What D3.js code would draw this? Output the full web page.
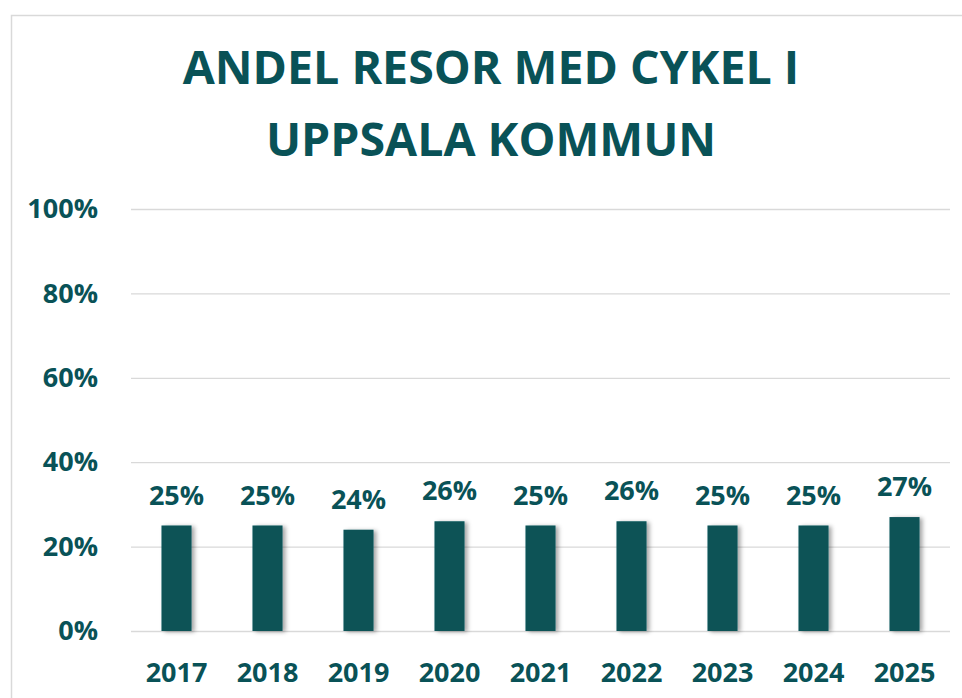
<!DOCTYPE html>
<html><head><meta charset="utf-8">
<script src="https://cdn.jsdelivr.net/npm/d3@7"></script>
<style>body{margin:0;background:#fff;}svg{display:block;}</style>
</head><body>
<svg id="c" width="962" height="698"></svg>
<script>
const titleLines = ["ANDEL RESOR MED CYKEL I", "UPPSALA KOMMUN"];
const years = ["2017","2018","2019","2020","2021","2022","2023","2024","2025"];
const shares = [25,25,24,26,25,26,25,25,27];
const yTicks = [0,20,40,60,80,100];

const color = "#095257";
const font = "'Open Sans', sans-serif";
const svg = d3.select("#c");
const W = 962, H = 698;
const m = {left:131, right:12, top:209, bottom:67};

svg.append("rect").attr("x",11.5).attr("y",15.5).attr("width",1000).attr("height",800)
  .attr("fill","#fff").attr("stroke","#d9d9d9").attr("stroke-width",1.5);

const defs = svg.append("defs");
const f = defs.append("filter").attr("id","sh").attr("x","-20%").attr("y","-10%").attr("width","160%").attr("height","130%");
f.append("feDropShadow").attr("dx",3).attr("dy",1).attr("stdDeviation",2).attr("flood-color","#000").attr("flood-opacity",0.35);

const x = d3.scaleBand().domain(years).range([m.left, W - m.right]).paddingInner(0.67).paddingOuter(0.335);
const y = d3.scaleLinear().domain([0,100]).range([H - m.bottom, m.top]);

// title
svg.append("g").selectAll("text").data(titleLines).join("text")
  .attr("x",491).attr("y",(d,i)=>84 + i*72)
  .attr("text-anchor","middle").attr("fill",color)
  .attr("font-family",font).attr("font-weight",700).attr("font-size",46.5)
  .text(d=>d);

// gridlines
const yAxis = d3.axisLeft(y).tickValues(yTicks).tickSize(-(W - m.right - m.left)).tickFormat(d=>d+"%").tickPadding(33);
const gy = svg.append("g").attr("transform",`translate(${m.left},0)`).call(yAxis);
gy.select(".domain").remove();
gy.selectAll(".tick line").attr("stroke","#d9d9d9").attr("stroke-width",1.3);
gy.selectAll(".tick text").attr("fill",color).attr("font-family",font).attr("font-weight",700).attr("font-size",27);

// bars
svg.append("g").selectAll("rect").data(years).join("rect")
  .attr("x",d=>x(d)).attr("width",x.bandwidth())
  .attr("y",(d,i)=>y(shares[i])).attr("height",(d,i)=>y(0)-y(shares[i]))
  .attr("fill",color).attr("filter","url(#sh)");

// value labels
svg.append("g").selectAll("text").data(years).join("text")
  .attr("x",d=>x(d)+x.bandwidth()/2).attr("y",(d,i)=>y(shares[i]) - 21)
  .attr("text-anchor","middle").attr("fill",color)
  .attr("font-family",font).attr("font-weight",700).attr("font-size",27)
  .text((d,i)=>shares[i]+"%");

// x axis
const xAxis = d3.axisBottom(x).tickSize(0).tickPadding(32);
const gx = svg.append("g").attr("transform",`translate(0,${y(0)})`).call(xAxis);
gx.select(".domain").remove();
gx.selectAll(".tick text").attr("fill",color).attr("font-family",font).attr("font-weight",700).attr("font-size",27);
</script>
</body></html>
